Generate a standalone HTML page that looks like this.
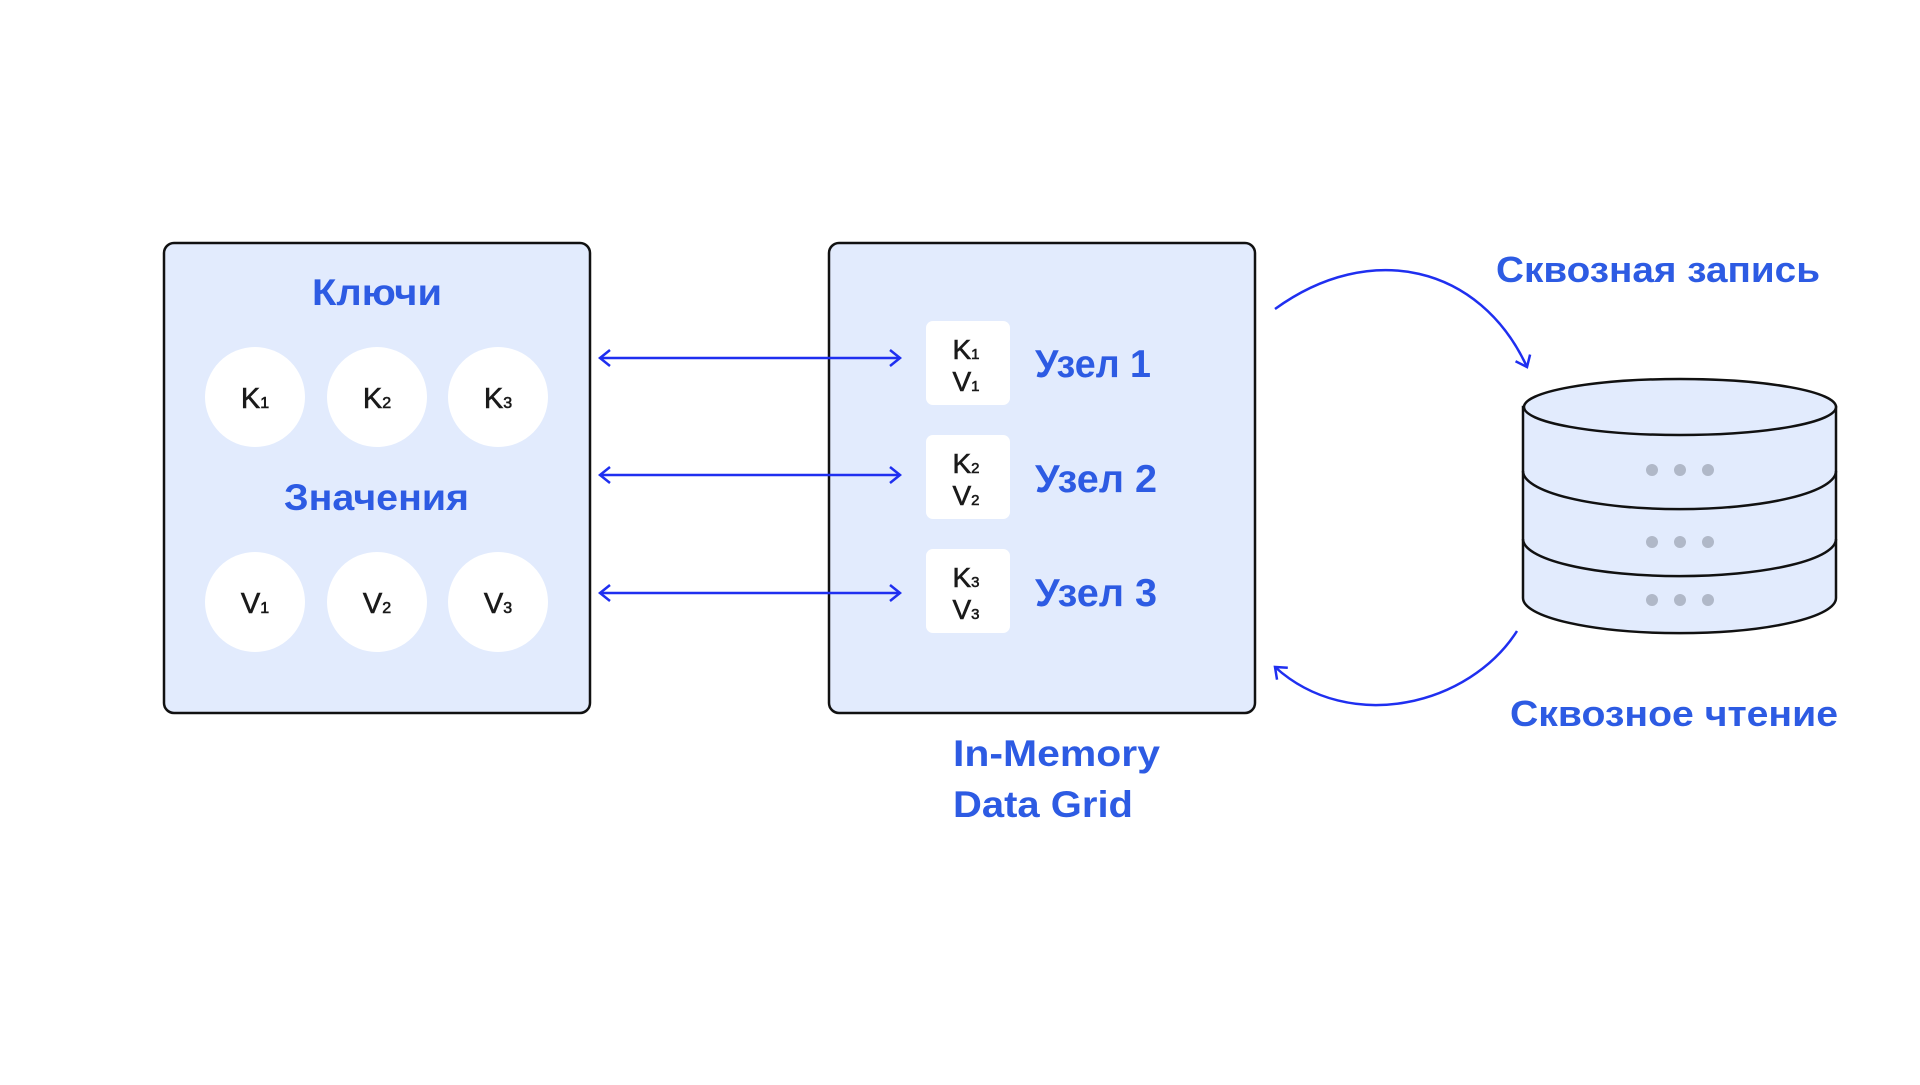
<!DOCTYPE html>
<html><head><meta charset="utf-8"><style>
body{margin:0;width:1920px;height:1080px;background:#fff;overflow:hidden}
svg text{font-family:"Liberation Sans",sans-serif}
</style></head><body>
<svg width="1920" height="1080" viewBox="0 0 1920 1080">
<defs>
<marker id="a" markerWidth="20" markerHeight="20" refX="14" refY="10" orient="auto-start-reverse" markerUnits="userSpaceOnUse">
<path d="M4 2 L14 10 L4 18" fill="none" stroke="#1f2ff0" stroke-width="2.5"/>
</marker>
</defs>
<rect x="164" y="243" width="426" height="470" rx="10" fill="#e2ebfd" stroke="#111" stroke-width="2.5"/>
<rect x="829" y="243" width="426" height="470" rx="10" fill="#e2ebfd" stroke="#111" stroke-width="2.5"/>
<g fill="#2d5be3" font-weight="bold" font-size="37">
<text x="312" y="305" textLength="130" lengthAdjust="spacingAndGlyphs">Ключи</text>
<text x="284" y="510" textLength="185" lengthAdjust="spacingAndGlyphs">Значения</text>
</g>
<g fill="#fff">
<circle cx="255" cy="397" r="50"/><circle cx="377" cy="397" r="50"/><circle cx="498" cy="397" r="50"/>
<circle cx="255" cy="602" r="50"/><circle cx="377" cy="602" r="50"/><circle cx="498" cy="602" r="50"/>
</g>
<g fill="#1a1a1a" font-size="29" text-anchor="middle" stroke="#1a1a1a" stroke-width="0.6">
<text x="255" y="408">K<tspan font-size="16">1</tspan></text>
<text x="377" y="408">K<tspan font-size="16">2</tspan></text>
<text x="498" y="408">K<tspan font-size="16">3</tspan></text>
<text x="255" y="613">V<tspan font-size="16">1</tspan></text>
<text x="377" y="613">V<tspan font-size="16">2</tspan></text>
<text x="498" y="613">V<tspan font-size="16">3</tspan></text>
</g>
<g stroke="#1f2ff0" stroke-width="2.5" fill="none" marker-start="url(#a)" marker-end="url(#a)">
<line x1="600" y1="358" x2="900" y2="358"/>
<line x1="600" y1="475" x2="900" y2="475"/>
<line x1="600" y1="593" x2="900" y2="593"/>
</g>
<g fill="#fff">
<rect x="926" y="321" width="84" height="84" rx="7"/>
<rect x="926" y="435" width="84" height="84" rx="7"/>
<rect x="926" y="549" width="84" height="84" rx="7"/>
</g>
<g fill="#1a1a1a" font-size="28" text-anchor="middle" stroke="#1a1a1a" stroke-width="0.6">
<text x="966" y="359">K<tspan font-size="15">1</tspan></text><text x="966" y="391">V<tspan font-size="15">1</tspan></text>
<text x="966" y="473">K<tspan font-size="15">2</tspan></text><text x="966" y="505">V<tspan font-size="15">2</tspan></text>
<text x="966" y="587">K<tspan font-size="15">3</tspan></text><text x="966" y="619">V<tspan font-size="15">3</tspan></text>
</g>
<g fill="#2d5be3" font-weight="bold" font-size="39">
<text x="1035" y="377" textLength="116" lengthAdjust="spacingAndGlyphs">Узел 1</text>
<text x="1035" y="492" textLength="122" lengthAdjust="spacingAndGlyphs">Узел 2</text>
<text x="1035" y="606" textLength="122" lengthAdjust="spacingAndGlyphs">Узел 3</text>
<text x="953" y="766" font-size="37" textLength="207" lengthAdjust="spacingAndGlyphs">In-Memory</text>
<text x="953" y="817" font-size="37" textLength="180" lengthAdjust="spacingAndGlyphs">Data Grid</text>
<text x="1496" y="282" font-size="36" textLength="324" lengthAdjust="spacingAndGlyphs">Сквозная запись</text>
<text x="1510" y="726" font-size="36" textLength="328" lengthAdjust="spacingAndGlyphs">Сквозное чтение</text>
</g>
<path d="M1275 309 C1370 240 1480 265 1527 367" fill="none" stroke="#1f2ff0" stroke-width="2.5" marker-end="url(#a)"/>
<path d="M1517 631 C1470 705 1350 735 1275 667" fill="none" stroke="#1f2ff0" stroke-width="2.5" marker-end="url(#a)"/>
<g stroke="#111" stroke-width="2.5" fill="#e2ebfd">
<path d="M1523 407 L1523 598 A156 35 0 0 0 1836 598 L1836 407 Z"/>
<ellipse cx="1680" cy="407" rx="156" ry="28"/>
<path d="M1523 471 A156 38 0 0 0 1836 471" fill="none"/>
<path d="M1523 539 A156 37 0 0 0 1836 539" fill="none"/>
</g>
<g fill="#b0b8c8">
<circle cx="1652" cy="470" r="6"/><circle cx="1680" cy="470" r="6"/><circle cx="1708" cy="470" r="6"/>
<circle cx="1652" cy="542" r="6"/><circle cx="1680" cy="542" r="6"/><circle cx="1708" cy="542" r="6"/>
<circle cx="1652" cy="600" r="6"/><circle cx="1680" cy="600" r="6"/><circle cx="1708" cy="600" r="6"/>
</g>
</svg>
</body></html>
